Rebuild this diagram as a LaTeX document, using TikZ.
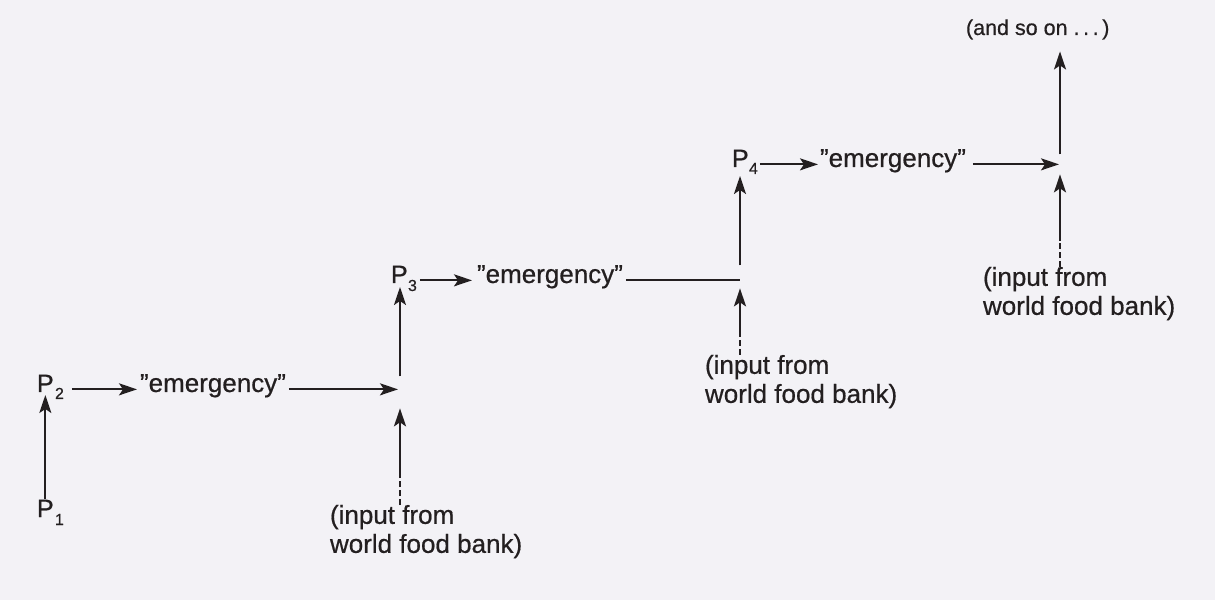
\documentclass[tikz,border=0pt]{standalone}
\usepackage{fontspec}
\setmainfont{Liberation Sans}[FakeBold=0.6]
\usetikzlibrary{arrows.meta,calc}
\definecolor{ink}{RGB}{35,31,32}
\definecolor{paper}{RGB}{243,242,246}
\begin{document}
\begin{tikzpicture}[x=1pt,y=1pt,
  lbl/.style={inner sep=0pt, outer sep=0pt, text=ink, anchor=base west, font=\fontsize{26}{30}\selectfont},
  pnode/.style={lbl, font=\fontsize{25}{30}\selectfont},
  subn/.style={lbl, font=\fontsize{16}{18}\selectfont},
  bank/.style={inner sep=0pt, outer sep=0pt, text=ink, anchor=north west, align=left, font=\fontsize{26}{29}\selectfont},
  soonn/.style={lbl, font=\fontsize{21.5}{24}\selectfont},
  conn/.style={draw=ink, line width=2.1pt},
  arr/.style={conn, -{Stealth[length=18pt,width=12pt,inset=4pt]}},
  dashpart/.style={conn, dash pattern=on 6pt off 3pt},
]
\fill[paper] (0,0) rectangle (1215,600);
\useasboundingbox (0,0) rectangle (1215,600);

% P nodes with subscripts
\node[pnode] (P1) at (37,83) {P};
\node[subn] (P1s) at (55,75) {1};
\node[pnode] (P2) at (37,208) {P};
\node[subn] (P2s) at (55,201) {2};
\node[pnode] (P3) at (391,317) {P};
\node[subn] (P3s) at (408,309) {3};
\node[pnode] (P4) at (732,433) {P};
\node[subn] (P4s) at (749,426) {4};

% emergency nodes
\node[lbl] (e2) at (140,208) {”emergency”};
\node[lbl] (e3) at (477,317) {”emergency”};
\node[lbl] (e4) at (820,433) {”emergency”};

% food bank nodes
\node[bank] (f2) at (330,95) {(input from\\world food bank)};
\node[bank] (f3) at (705,245) {(input from\\world food bank)};
\node[bank] (f4) at (983,333) {(input from\\world food bank)};

\node[soonn] (soon) at (966,565) {(and so on .\,.\,.\,)};

% junctions
\coordinate (c2) at (400,0);
\coordinate (c3) at (740,0);
\coordinate (c4) at (1060,0);
\coordinate (x2) at (e2.mid -| c2);
\coordinate (x3) at (e3.mid -| c3);
\coordinate (x4) at (e4.mid -| c4);

% P1 -> P2
\draw[arr, shorten <=1pt, shorten >=3pt] (P1.north) -- (P2.south);

% P -> emergency
\draw[arr, shorten <=8pt, shorten >=3pt] (P2s.east |- e2.mid) -- (e2.mid west);
\draw[arr, shorten <=3pt, shorten >=5pt] (P3s.east |- e3.mid) -- (e3.mid west);
\draw[arr, shorten <=2pt, shorten >=2pt] (P4s.east |- e4.mid) -- (e4.mid west);

% emergency -> junctions
\draw[arr, shorten <=3pt, shorten >=2pt] (e2.mid east) -- (x2);
\draw[conn, shorten <=3pt] (e3.mid east) -- (x3);
\draw[arr, shorten <=7pt, shorten >=1pt] (e4.mid east) -- (x4);

% food bank inputs
\coordinate (f2t) at (x2 |- f2.north);
\draw[dashpart] (f2t) -- ++(0,30) coordinate (f2m);
\draw[arr, shorten >=19pt] (f2m) -- (x2);
\coordinate (f3t) at (x3 |- f3.north);
\draw[dashpart] (f3t) -- ++(0,24) coordinate (f3m);
\draw[arr, shorten >=8pt] (f3m) -- (x3);
\coordinate (f4t) at (x4 |- f4.north);
\draw[dashpart] (f4t) -- ++(0,26) coordinate (f4m);
\draw[arr, shorten >=10pt] (f4m) -- (x4);

% junctions -> next P
\draw[arr, shorten <=13pt, shorten >=4pt] (x2) -- (x2 |- P3.south);
\draw[arr, shorten <=15pt, shorten >=9pt] (x3) -- (x3 |- P4.south);
\draw[arr, shorten <=10pt, shorten >=12pt] (x4) -- (x4 |- soon.south);
\end{tikzpicture}
\end{document}
